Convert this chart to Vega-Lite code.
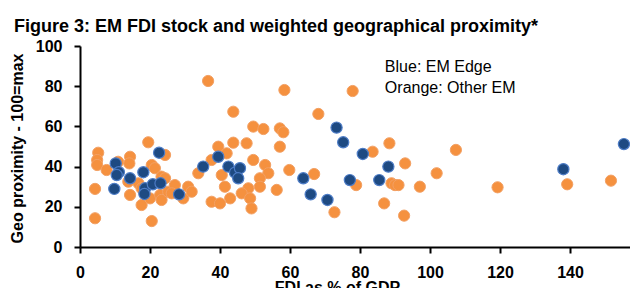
{
  "$schema": "https://vega.github.io/schema/vega-lite/v6.json",
  "width": 550,
  "height": 201,
  "autosize": {"type": "none"},
  "padding": {"left": 80, "top": 46, "right": 0, "bottom": 41},
  "background": "white",
  "config": {"view": {"stroke": null}, "font": "Liberation Sans"},
  "title": {
    "text": "Figure 3: EM FDI stock and weighted geographical proximity*",
    "anchor": "start",
    "frame": "group",
    "font": "Liberation Sans",
    "fontSize": 18,
    "fontWeight": "bold",
    "color": "black",
    "baseline": "alphabetic",
    "offset": 15,
    "dx": -66,
    "dy": 27
  },
  "datasets": {
    "pts": [
      {"fdi": 4.3, "geo": 14.3, "group": "Other EM"},
      {"fdi": 4.3, "geo": 28.9, "group": "Other EM"},
      {"fdi": 5.2, "geo": 46.9, "group": "Other EM"},
      {"fdi": 4.9, "geo": 43.3, "group": "Other EM"},
      {"fdi": 4.9, "geo": 40.8, "group": "Other EM"},
      {"fdi": 7.6, "geo": 38.3, "group": "Other EM"},
      {"fdi": 10.9, "geo": 42.4, "group": "Other EM"},
      {"fdi": 14.3, "geo": 44.9, "group": "Other EM"},
      {"fdi": 14.1, "geo": 41.6, "group": "Other EM"},
      {"fdi": 13.8, "geo": 32.5, "group": "Other EM"},
      {"fdi": 14.3, "geo": 25.9, "group": "Other EM"},
      {"fdi": 16.7, "geo": 31.7, "group": "Other EM"},
      {"fdi": 17.6, "geo": 29.2, "group": "Other EM"},
      {"fdi": 17.6, "geo": 20.9, "group": "Other EM"},
      {"fdi": 19.5, "geo": 52.1, "group": "Other EM"},
      {"fdi": 20.5, "geo": 12.9, "group": "Other EM"},
      {"fdi": 20.5, "geo": 40.8, "group": "Other EM"},
      {"fdi": 21.4, "geo": 39.2, "group": "Other EM"},
      {"fdi": 23.3, "geo": 35.0, "group": "Other EM"},
      {"fdi": 24.3, "geo": 34.2, "group": "Other EM"},
      {"fdi": 24.3, "geo": 45.8, "group": "Other EM"},
      {"fdi": 20.0, "geo": 24.2, "group": "Other EM"},
      {"fdi": 22.9, "geo": 25.9, "group": "Other EM"},
      {"fdi": 23.3, "geo": 23.4, "group": "Other EM"},
      {"fdi": 25.2, "geo": 27.5, "group": "Other EM"},
      {"fdi": 27.1, "geo": 30.8, "group": "Other EM"},
      {"fdi": 26.2, "geo": 26.7, "group": "Other EM"},
      {"fdi": 29.5, "geo": 24.2, "group": "Other EM"},
      {"fdi": 30.9, "geo": 30.0, "group": "Other EM"},
      {"fdi": 31.9, "geo": 27.5, "group": "Other EM"},
      {"fdi": 33.8, "geo": 36.7, "group": "Other EM"},
      {"fdi": 37.6, "geo": 43.3, "group": "Other EM"},
      {"fdi": 37.6, "geo": 22.5, "group": "Other EM"},
      {"fdi": 40.0, "geo": 21.7, "group": "Other EM"},
      {"fdi": 39.5, "geo": 49.9, "group": "Other EM"},
      {"fdi": 41.9, "geo": 46.6, "group": "Other EM"},
      {"fdi": 40.5, "geo": 35.8, "group": "Other EM"},
      {"fdi": 41.4, "geo": 30.0, "group": "Other EM"},
      {"fdi": 42.9, "geo": 24.2, "group": "Other EM"},
      {"fdi": 43.8, "geo": 67.3, "group": "Other EM"},
      {"fdi": 43.8, "geo": 51.9, "group": "Other EM"},
      {"fdi": 47.6, "geo": 51.6, "group": "Other EM"},
      {"fdi": 49.5, "geo": 59.9, "group": "Other EM"},
      {"fdi": 52.4, "geo": 58.7, "group": "Other EM"},
      {"fdi": 49.5, "geo": 43.3, "group": "Other EM"},
      {"fdi": 52.9, "geo": 40.8, "group": "Other EM"},
      {"fdi": 53.8, "geo": 36.7, "group": "Other EM"},
      {"fdi": 51.4, "geo": 34.2, "group": "Other EM"},
      {"fdi": 51.4, "geo": 30.0, "group": "Other EM"},
      {"fdi": 48.1, "geo": 29.2, "group": "Other EM"},
      {"fdi": 46.2, "geo": 26.7, "group": "Other EM"},
      {"fdi": 48.6, "geo": 24.2, "group": "Other EM"},
      {"fdi": 49.0, "geo": 19.2, "group": "Other EM"},
      {"fdi": 56.2, "geo": 28.4, "group": "Other EM"},
      {"fdi": 57.1, "geo": 59.0, "group": "Other EM"},
      {"fdi": 58.1, "geo": 57.1, "group": "Other EM"},
      {"fdi": 57.1, "geo": 49.9, "group": "Other EM"},
      {"fdi": 58.4, "geo": 78.1, "group": "Other EM"},
      {"fdi": 77.9, "geo": 77.6, "group": "Other EM"},
      {"fdi": 36.6, "geo": 82.6, "group": "Other EM"},
      {"fdi": 68.1, "geo": 66.2, "group": "Other EM"},
      {"fdi": 59.8, "geo": 38.3, "group": "Other EM"},
      {"fdi": 66.9, "geo": 36.3, "group": "Other EM"},
      {"fdi": 72.7, "geo": 17.3, "group": "Other EM"},
      {"fdi": 78.9, "geo": 30.8, "group": "Other EM"},
      {"fdi": 83.6, "geo": 47.4, "group": "Other EM"},
      {"fdi": 88.4, "geo": 51.6, "group": "Other EM"},
      {"fdi": 92.9, "geo": 41.6, "group": "Other EM"},
      {"fdi": 89.0, "geo": 31.7, "group": "Other EM"},
      {"fdi": 90.0, "geo": 30.8, "group": "Other EM"},
      {"fdi": 91.0, "geo": 30.8, "group": "Other EM"},
      {"fdi": 86.9, "geo": 21.7, "group": "Other EM"},
      {"fdi": 92.6, "geo": 15.6, "group": "Other EM"},
      {"fdi": 97.1, "geo": 30.0, "group": "Other EM"},
      {"fdi": 101.9, "geo": 36.7, "group": "Other EM"},
      {"fdi": 107.4, "geo": 48.3, "group": "Other EM"},
      {"fdi": 119.3, "geo": 29.7, "group": "Other EM"},
      {"fdi": 139.2, "geo": 31.2, "group": "Other EM"},
      {"fdi": 151.7, "geo": 33.0, "group": "Other EM"},
      {"fdi": 10.2, "geo": 41.6, "group": "EM Edge"},
      {"fdi": 11.1, "geo": 37.2, "group": "EM Edge"},
      {"fdi": 10.5, "geo": 35.8, "group": "EM Edge"},
      {"fdi": 9.8, "geo": 28.9, "group": "EM Edge"},
      {"fdi": 14.3, "geo": 34.2, "group": "EM Edge"},
      {"fdi": 18.1, "geo": 37.2, "group": "EM Edge"},
      {"fdi": 18.6, "geo": 29.2, "group": "EM Edge"},
      {"fdi": 18.4, "geo": 26.4, "group": "EM Edge"},
      {"fdi": 20.8, "geo": 31.2, "group": "EM Edge"},
      {"fdi": 23.0, "geo": 31.7, "group": "EM Edge"},
      {"fdi": 22.6, "geo": 46.9, "group": "EM Edge"},
      {"fdi": 28.3, "geo": 26.2, "group": "EM Edge"},
      {"fdi": 35.2, "geo": 40.0, "group": "EM Edge"},
      {"fdi": 39.5, "geo": 44.9, "group": "EM Edge"},
      {"fdi": 42.4, "geo": 40.0, "group": "EM Edge"},
      {"fdi": 44.3, "geo": 37.0, "group": "EM Edge"},
      {"fdi": 45.7, "geo": 39.2, "group": "EM Edge"},
      {"fdi": 45.2, "geo": 34.2, "group": "EM Edge"},
      {"fdi": 73.3, "geo": 59.4, "group": "EM Edge"},
      {"fdi": 75.2, "geo": 52.1, "group": "EM Edge"},
      {"fdi": 80.8, "geo": 46.3, "group": "EM Edge"},
      {"fdi": 88.1, "geo": 40.0, "group": "EM Edge"},
      {"fdi": 63.8, "geo": 34.2, "group": "EM Edge"},
      {"fdi": 77.1, "geo": 33.3, "group": "EM Edge"},
      {"fdi": 85.5, "geo": 33.3, "group": "EM Edge"},
      {"fdi": 65.9, "geo": 26.2, "group": "EM Edge"},
      {"fdi": 70.7, "geo": 23.4, "group": "EM Edge"},
      {"fdi": 138.1, "geo": 38.7, "group": "EM Edge"},
      {"fdi": 155.4, "geo": 51.2, "group": "EM Edge"}
    ],
    "notes": [
      {"fdi": 87.1, "geo": 87.1, "label": "Blue: EM Edge"},
      {"fdi": 87.1, "geo": 76.6, "label": "Orange: Other EM"}
    ]
  },
  "layer": [
    {
      "data": {"name": "pts"},
      "transform": [{"filter": "datum.group === 'Other EM'"}],
      "mark": {"type": "point", "filled": true, "shape": "circle", "size": 125, "fill": "#F5913F", "stroke": "#F3A063", "strokeWidth": 1, "opacity": 1, "clip": true},
      "encoding": {
        "x": {
          "field": "fdi", "type": "quantitative",
          "scale": {"domain": [0, 157.14], "nice": false, "zero": true},
          "axis": {
            "values": [0, 20, 40, 60, 80, 100, 120, 140],
            "title": "FDI as % of GDP",
            "grid": false,
            "domainColor": "black", "domainWidth": 2,
            "tickColor": "black", "tickWidth": 2, "tickSize": 6,
            "labelFont": "Liberation Sans", "labelFontSize": 16, "labelFontWeight": "bold", "labelColor": "black",
            "labelPadding": 11, "labelFlush": false, "labelOverlap": false,
            "titleFont": "Liberation Sans", "titleFontSize": 16, "titleFontWeight": "bold", "titleColor": "black",
            "titleX": 257, "titleY": 45, "titleBaseline": "alphabetic", "titleAnchor": "middle", "titleAlign": "center"
          }
        },
        "y": {
          "field": "geo", "type": "quantitative",
          "scale": {"domain": [0, 100], "nice": false},
          "axis": {
            "values": [0, 20, 40, 60, 80, 100],
            "title": "Geo proximity - 100=max",
            "grid": false,
            "domainColor": "black", "domainWidth": 2,
            "tickColor": "black", "tickWidth": 2, "tickSize": 6,
            "labelFont": "Liberation Sans", "labelFontSize": 16, "labelFontWeight": "bold", "labelColor": "black",
            "labelPadding": 12, "labelFlush": false, "labelOverlap": false,
            "titleFont": "Liberation Sans", "titleFontSize": 16, "titleFontWeight": "bold", "titleColor": "black",
            "titleX": -63, "titleY": 102, "titleAngle": -90, "titleBaseline": "middle", "titleAlign": "center"
          }
        }
      }
    },
    {
      "data": {"name": "pts"},
      "transform": [{"filter": "datum.group === 'EM Edge'"}],
      "mark": {"type": "point", "filled": true, "shape": "circle", "size": 125, "fill": "#1E4A82", "stroke": "#4D7CC6", "strokeWidth": 1.2, "opacity": 1, "clip": true},
      "encoding": {
        "x": {"field": "fdi", "type": "quantitative"},
        "y": {"field": "geo", "type": "quantitative"}
      }
    },
    {
      "data": {"name": "notes"},
      "mark": {"type": "text", "align": "left", "baseline": "alphabetic", "font": "Liberation Sans", "fontSize": 16, "color": "black"},
      "encoding": {
        "x": {"field": "fdi", "type": "quantitative"},
        "y": {"field": "geo", "type": "quantitative"},
        "text": {"field": "label"}
      }
    }
  ]
}
